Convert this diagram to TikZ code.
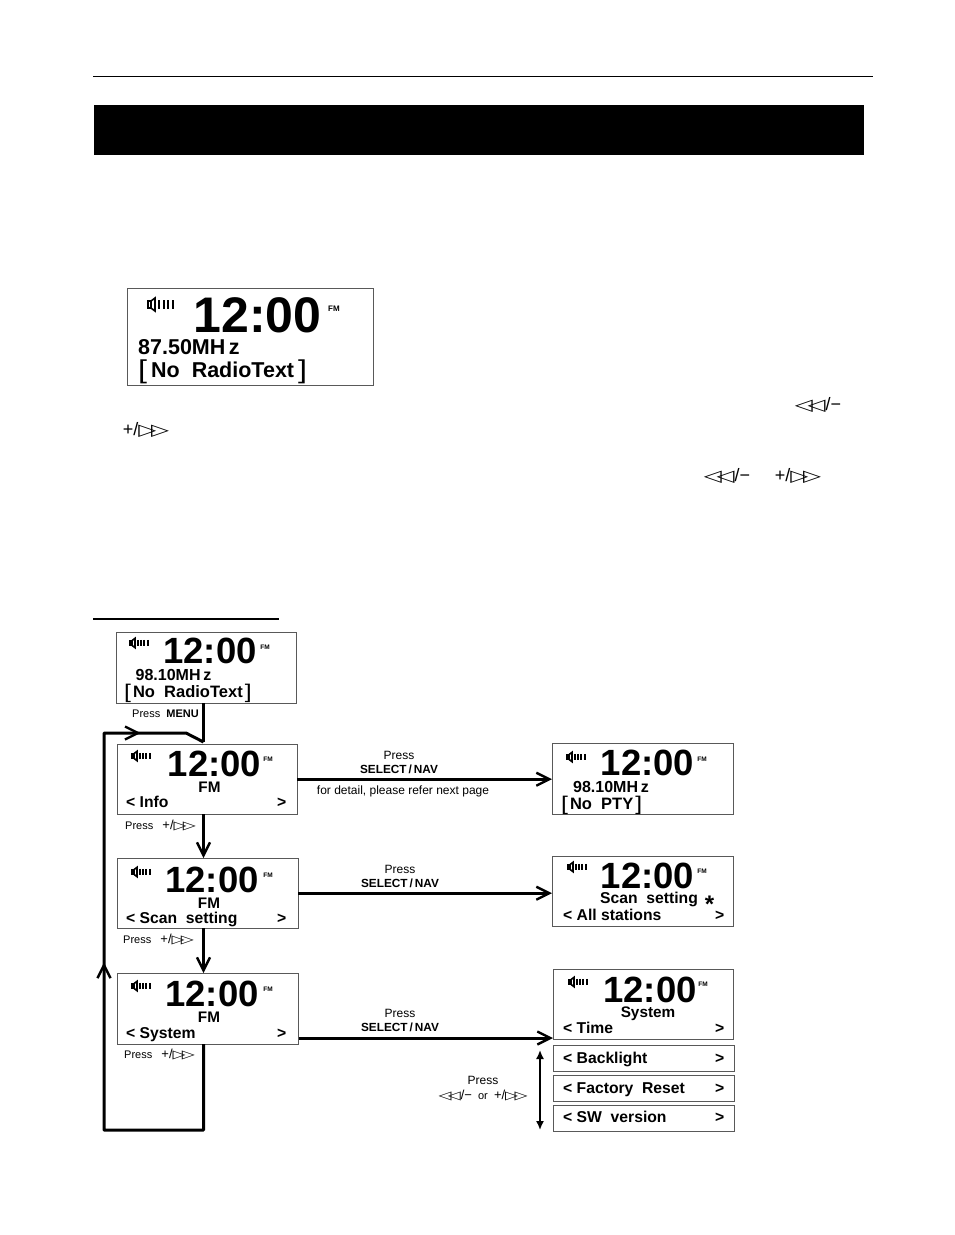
\documentclass[tikz,border=0pt]{standalone}
\usepackage{fontspec}
\setmainfont{Liberation Sans}
\newfontfamily\symfont{DejaVu Sans}
\usetikzlibrary{arrows.meta}
\usetikzlibrary{decorations.markings}

\newcommand{\fwdkey}{+/{\symfont\bfseries\scalebox{1.3}[.9]{▷\kern-.22em▷}}}
\newcommand{\backkey}{{\symfont\bfseries\scalebox{1.3}[.9]{◁\kern-.22em◁}}/−}
\newcommand{\smallkey}[1]{{\fontsize{13}{13}\selectfont #1}}
\newcommand{\thinbr}[1]{\raisebox{-.06em}{\scalebox{1.5}[1.2]{\mdseries #1}}}

\tikzset{
  lcd/.style={draw=black!65,line width=.9pt,anchor=north west,inner sep=0pt},
  clockbig/.style={font=\fontsize{50}{50}\selectfont\bfseries,inner sep=0pt},
  clocksmall/.style={font=\fontsize{36.5}{37}\selectfont\bfseries,inner sep=0pt},
  fmtiny/.style={font=\fontsize{6.5}{6.5}\selectfont\bfseries,inner sep=0pt},
  lcdtext/.style={font=\fontsize{15.7}{16}\selectfont\bfseries,inner sep=0pt,anchor=base west},
  lcdmid/.style={font=\fontsize{15.3}{16}\selectfont\bfseries,inner sep=0pt,anchor=base},
  bigtext/.style={font=\fontsize{21.5}{22}\selectfont\bfseries,inner sep=0pt,anchor=base west},
  hint/.style={font=\fontsize{12}{12}\selectfont,inner sep=0pt,anchor=base},
  hintbold/.style={font=\fontsize{11.8}{12}\selectfont\bfseries,inner sep=0pt,anchor=base},
  hintleft/.style={font=\fontsize{11}{12}\selectfont,inner sep=0pt,anchor=base west},
  keytext/.style={font=\fontsize{18}{18}\selectfont,inner sep=0pt},
  flow/.style={line width=3pt,-{Straight Barb[length=13pt,width=13pt,line width=2.4pt]}},
  rule/.style={line width=1pt},
  speaker/.pic={
    \draw[line width=1.6pt] (0,-3.5) rectangle (3,3.5);
    \draw[line width=1.6pt] (3,-3.5) -- (7,-6.5) -- (7,6.5) -- (3,3.5);
    \foreach \x in {11,15.5,20,24.5}
      \draw[line width=2pt] (\x,-4.5) -- (\x,4.5);
  }
}

% box, clock and icons of one display: name, corner, size, clock, speaker, fm
\newcommand{\lcdscreen}[7]{
  \node[lcd,minimum width=#3pt,minimum height=#4pt] (#1) at (#2) {};
  \node[clocksmall] (#1clock) at (#5) {12:00};
  \pic[scale=.72] at (#6) {speaker};
  \node[fmtiny] (#1fm) at (#7) {FM};
}

\begin{document}
\begin{tikzpicture}[x=1pt,y=-1pt]
\useasboundingbox (0,0) rectangle (954,1235);

\coordinate (ruleleft) at (93,76.5);
\coordinate (ruleright) at (873,76.5);
\draw [rule] (ruleleft) -- (ruleright);
\node[fill=black,anchor=north west,minimum width=770pt,minimum height=50pt,inner sep=0pt] (titlebar) at (94,105) {};

% display in the text
\node[lcd,minimum width=245.5pt,minimum height=96.5pt] (scrtext) at (127,288) {};
\pic at (148,304.5) {speaker};
\node[clockbig] (scrtextclock) at (257.5,315) {12:00};
\node[fmtiny,font=\fontsize{8}{8}\selectfont\bfseries] (scrtextfm) at (334,309) {FM};
\node[bigtext] (scrtextfreq) at (138,354) {87.50MH\,z};
\node[bigtext] (scrtextradio) at (138,377) {\thinbr{[}\kern4pt No\ \ RadioText\kern4pt\thinbr{]}};

\node[keytext] (keyback) at (818,405) {\backkey};
\node[keytext] (keyfwd) at (146,430) {\fwdkey};
\node[keytext] (keybacktwo) at (727,476) {\backkey};
\node[keytext] (keyfwdtwo) at (798,476) {\fwdkey};

\coordinate (underleft) at (93,619);
\coordinate (underright) at (279,619);
\draw [line width=2pt] (underleft) -- (underright);

% left column
\lcdscreen{scrmain}{116,632}{179.5}{70.5}{210,651}{130,643}{265,647}
\node[lcdtext,font=\fontsize{16}{16}\selectfont\bfseries] (scrmainfreq) at (135.5,680) {98.10MH\,z};
\node[lcdtext,font=\fontsize{16.5}{16}\selectfont\bfseries] (scrmainradio) at (124,697) {\thinbr{[}\kern2pt No\ \ RadioText\kern2pt\thinbr{]}};

\lcdscreen{scrinfo}{117,744}{179.5}{69.5}{214.5,764}{132,756}{268,759}
\node[lcdmid] (scrinfofm) at (209.5,792) {FM};
\node[lcdtext] (scrinfoitem) at (126,807) {< Info};
\node[lcdtext] (scrinfonext) at (277,807) {>};

\lcdscreen{scrscan}{117,858}{180.5}{69.5}{212,880}{132,872}{268,875}
\node[lcdmid] (scrscanfm) at (209,908) {FM};
\node[lcdtext] (scrscanitem) at (126,923) {< Scan\ \ setting};
\node[lcdtext] (scrscannext) at (277,923) {>};

\lcdscreen{scrsys}{117,973}{180.5}{70.5}{212,994}{132,986}{268,989}
\node[lcdmid] (scrsysfm) at (209,1022) {FM};
\node[lcdtext] (scrsysitem) at (126,1038) {< System};
\node[lcdtext] (scrsysnext) at (277,1038) {>};

% right column
\lcdscreen{scrpty}{552,743}{180.5}{70.5}{647.5,763}{567,757}{702,759}
\node[lcdtext,font=\fontsize{16}{16}\selectfont\bfseries] (scrptyfreq) at (573,792) {98.10MH\,z};
\node[lcdtext,font=\fontsize{16.5}{16}\selectfont\bfseries] (scrptyname) at (561,809) {\thinbr{[}\kern2pt No\ \ PTY\kern2pt\thinbr{]}};

\lcdscreen{scrall}{552,856}{180.5}{69.5}{647.5,876}{568,867}{702,871}
\node[lcdtext] (scrallhead) at (600,903) {Scan\ \ setting};
\node[font=\fontsize{24}{24}\selectfont\bfseries,inner sep=0pt] (scrallstar) at (709.5,904) {*};
\node[lcdtext] (scrallitem) at (563,920) {< All stations};
\node[lcdtext] (scrallnext) at (715,920) {>};

\lcdscreen{scrtime}{553,969}{179.5}{69.5}{650,990}{569,982}{703,984}
\node[lcdmid] (scrtimehead) at (648,1017) {System};
\node[lcdtext] (scrtimeitem) at (563,1033) {< Time};
\node[lcdtext] (scrtimenext) at (715,1033) {>};

\node[lcd,minimum width=180.5pt,minimum height=25.5pt] (scrback) at (553,1045) {};
\node[lcdtext] (scrbackitem) at (563,1063) {< Backlight};
\node[lcdtext] (scrbacknext) at (715,1063) {>};
\node[lcd,minimum width=180.5pt,minimum height=25.5pt] (scrreset) at (553,1075) {};
\node[lcdtext] (scrresetitem) at (563,1093) {< Factory\ \ Reset};
\node[lcdtext] (scrresetnext) at (715,1093) {>};
\node[lcd,minimum width=180.5pt,minimum height=25.5pt] (scrsw) at (553,1105) {};
\node[lcdtext] (scrswitem) at (563,1122) {< SW\ \ version};
\node[lcdtext] (scrswnext) at (715,1122) {>};

% connectors
\coordinate (menuin) at (203.5,742);
\coordinate (loopout) at (203.5,1044);
\coordinate (loopa) at (203.5,1130);
\coordinate (loopb) at (104,1130);
\coordinate (loopc) at (104,733);
\coordinate (loopd) at (186,733);
\coordinate (sysout) at (298.5,1038);
\coordinate (sysin) at (553,1038);
\coordinate (updown) at (540,1050);
\coordinate (updownb) at (540,1130);

\draw [line width=3pt] (scrmain.south -| menuin) -- (menuin);
\draw [line width=3pt,line join=round,postaction={decorate},decoration={markings,
	mark=at position 0.516 with {\arrow{Straight Barb[length=13pt,width=13pt,line width=2.4pt]}},
	mark=at position 0.905 with {\arrow{Straight Barb[length=13pt,width=13pt,line width=2.4pt]}}}]
	(loopout) -- (loopa) -- (loopb) -- (loopc) -- (loopd) -- (menuin);
\draw [flow] (scrinfo.south -| menuin) -- (scrscan.north -| menuin);
\draw [flow] (scrscan.south -| menuin) -- (scrsys.north -| menuin);
\draw [flow] (scrinfo.east) -- (scrpty.west |- scrinfo.east);
\draw [flow] (scrscan.east) -- (scrall.west |- scrscan.east);
\draw [flow] (sysout) -- (sysin);
\draw [line width=1.6pt,{Latex[length=9pt,width=8pt]}-{Latex[length=9pt,width=8pt]}] (updown) -- (updownb);

% hints
\node[hintleft] (hintmenu) at (132,717) {Press\ \ \textbf{MENU}};
\node[hintleft] (hintinfo) at (125,829) {Press\ \ \ \smallkey{\fwdkey}};
\node[hintleft] (hintscan) at (123,943) {Press\ \ \ \smallkey{\fwdkey}};
\node[hintleft] (hintsys) at (124,1058) {Press\ \ \ \smallkey{\fwdkey}};

\node[hint] (pressa) at (399,759) {Press};
\node[hintbold] (selecta) at (399,773) {SELECT\,/\,NAV};
\node[hint] (detail) at (403,794) {for detail, please refer next page};
\node[hint] (pressb) at (400,873) {Press};
\node[hintbold] (selectb) at (400,887) {SELECT\,/\,NAV};
\node[hint] (pressc) at (400,1017) {Press};
\node[hintbold] (selectc) at (400,1031) {SELECT\,/\,NAV};
\node[hint] (pressd) at (483,1084) {Press};
\node[hintleft,anchor=base] (pressor) at (483,1099) {\smallkey{\backkey}\ \ or\ \ \smallkey{\fwdkey}};

\end{tikzpicture}
\end{document}
